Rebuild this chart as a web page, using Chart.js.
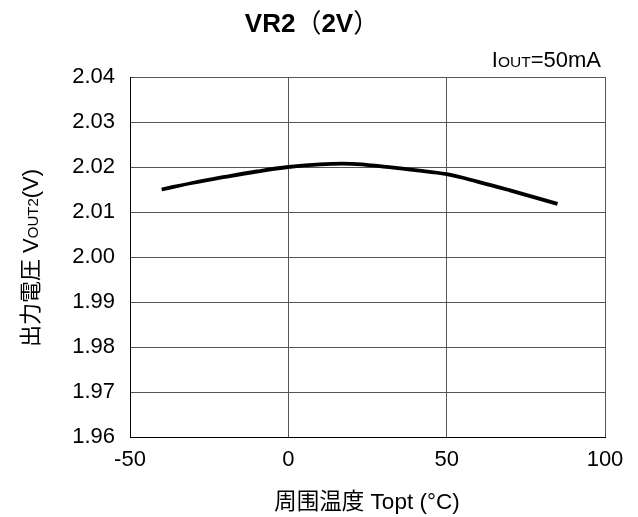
<!DOCTYPE html>
<html>
<head>
<meta charset="utf-8">
<script src="https://cdn.jsdelivr.net/npm/chart.js@4.4.1/dist/chart.umd.min.js"></script>
<style>
  html, body { margin: 0; padding: 0; background: #fff; }
  #wrap { width: 638px; height: 517px; }
</style>
</head>
<body>
<div id="wrap"><canvas id="c" width="638" height="517"></canvas></div>
<script>
// Output voltage VR2 vs ambient temperature
const temperatures = [-40, -30, -20, -10, 0, 10, 20, 30, 40, 50, 60, 70, 85];
const vout2 = [2.0150, 2.0165, 2.0178, 2.0190, 2.0200, 2.0206, 2.0207, 2.0201, 2.0193, 2.0184, 2.0167, 2.0148, 2.0118];
const xTicks = [-50, 0, 50, 100];
const yTicks = [1.96, 1.97, 1.98, 1.99, 2.00, 2.01, 2.02, 2.03, 2.04];

const FONT = '"Liberation Sans", Arial, "Noto Sans CJK JP", sans-serif';
const CJK = '"Liberation Sans", "Noto Sans CJK JP", sans-serif';
const CJK_SC = '"Noto Sans CJK SC", sans-serif';

// draws a run of text pieces with different sizes on a shared baseline
function drawRun(ctx, parts, x, y, align) {
  const fontOf = p => (p.bold ? 'bold ' : '') + p.size + 'px ' + (p.family || CJK);
  let total = 0;
  const widths = parts.map(p => {
    ctx.font = fontOf(p);
    const w = ctx.measureText(p.text).width;
    total += w;
    return w;
  });
  let cx = align === 'right' ? x - total : align === 'center' ? x - total / 2 : x;
  ctx.textAlign = 'left';
  ctx.textBaseline = 'alphabetic';
  parts.forEach((p, i) => {
    ctx.font = fontOf(p);
    ctx.fillText(p.text, cx, y);
    cx += widths[i];
  });
}

const labelsPlugin = {
  id: 'labels',
  afterDraw(chart) {
    const ctx = chart.ctx;
    ctx.save();
    ctx.fillStyle = '#000';
    drawRun(ctx, [
      { text: 'VR2', size: 26, bold: true },
      { text: '（', size: 26, family: CJK_SC },
      { text: '2V', size: 26, bold: true },
      { text: '）', size: 26, family: CJK_SC }
    ], 312, 32, 'center');
    drawRun(ctx, [
      { text: 'I', size: 22 }, { text: 'OUT', size: 15.5 }, { text: '=50mA', size: 22 }
    ], 601, 67, 'right');
    drawRun(ctx, [{ text: '周围温度 Topt (°C)', size: 22.5 }], 367, 509, 'center');
    ctx.translate(38, 258);
    ctx.rotate(-Math.PI / 2);
    drawRun(ctx, [
      { text: '出力電圧 V', size: 22 }, { text: 'OUT2', size: 15 }, { text: '(V)', size: 22 }
    ], 0, 0, 'center');
    ctx.restore();
  }
};

new Chart(document.getElementById('c'), {
  type: 'line',
  data: {
    datasets: [{
      data: temperatures.map((t, i) => ({ x: t, y: vout2[i] })),
      borderColor: '#000',
      borderWidth: 3.8,
      pointRadius: 0,
      tension: 0.4,
      fill: false
    }]
  },
  options: {
    responsive: false,
    animation: false,
    layout: { padding: { left: 0, top: 77, right: 33, bottom: 0 } },
    plugins: { legend: { display: false }, tooltip: { enabled: false } },
    scales: {
      x: {
        type: 'linear',
        min: -50, max: 100,
        afterBuildTicks: s => { s.ticks = xTicks.map(v => ({ value: v })); },
        ticks: { font: { family: FONT, size: 22 }, color: '#000', padding: 10, maxRotation: 0 },
        grid: { color: '#555', lineWidth: 1, drawTicks: false },
        border: { color: '#000', width: 1 },
        afterFit: s => { s.height = 80; }
      },
      y: {
        min: 1.96, max: 2.04,
        afterBuildTicks: s => { s.ticks = yTicks.map(v => ({ value: v })); },
        ticks: { font: { family: FONT, size: 22 }, color: '#000', padding: 15, callback: v => v.toFixed(2) },
        grid: { color: '#555', lineWidth: 1, drawTicks: false },
        border: { color: '#000', width: 1 },
        afterFit: s => { s.width = 130; }
      }
    }
  },
  plugins: [labelsPlugin]
});
</script>
</body>
</html>
